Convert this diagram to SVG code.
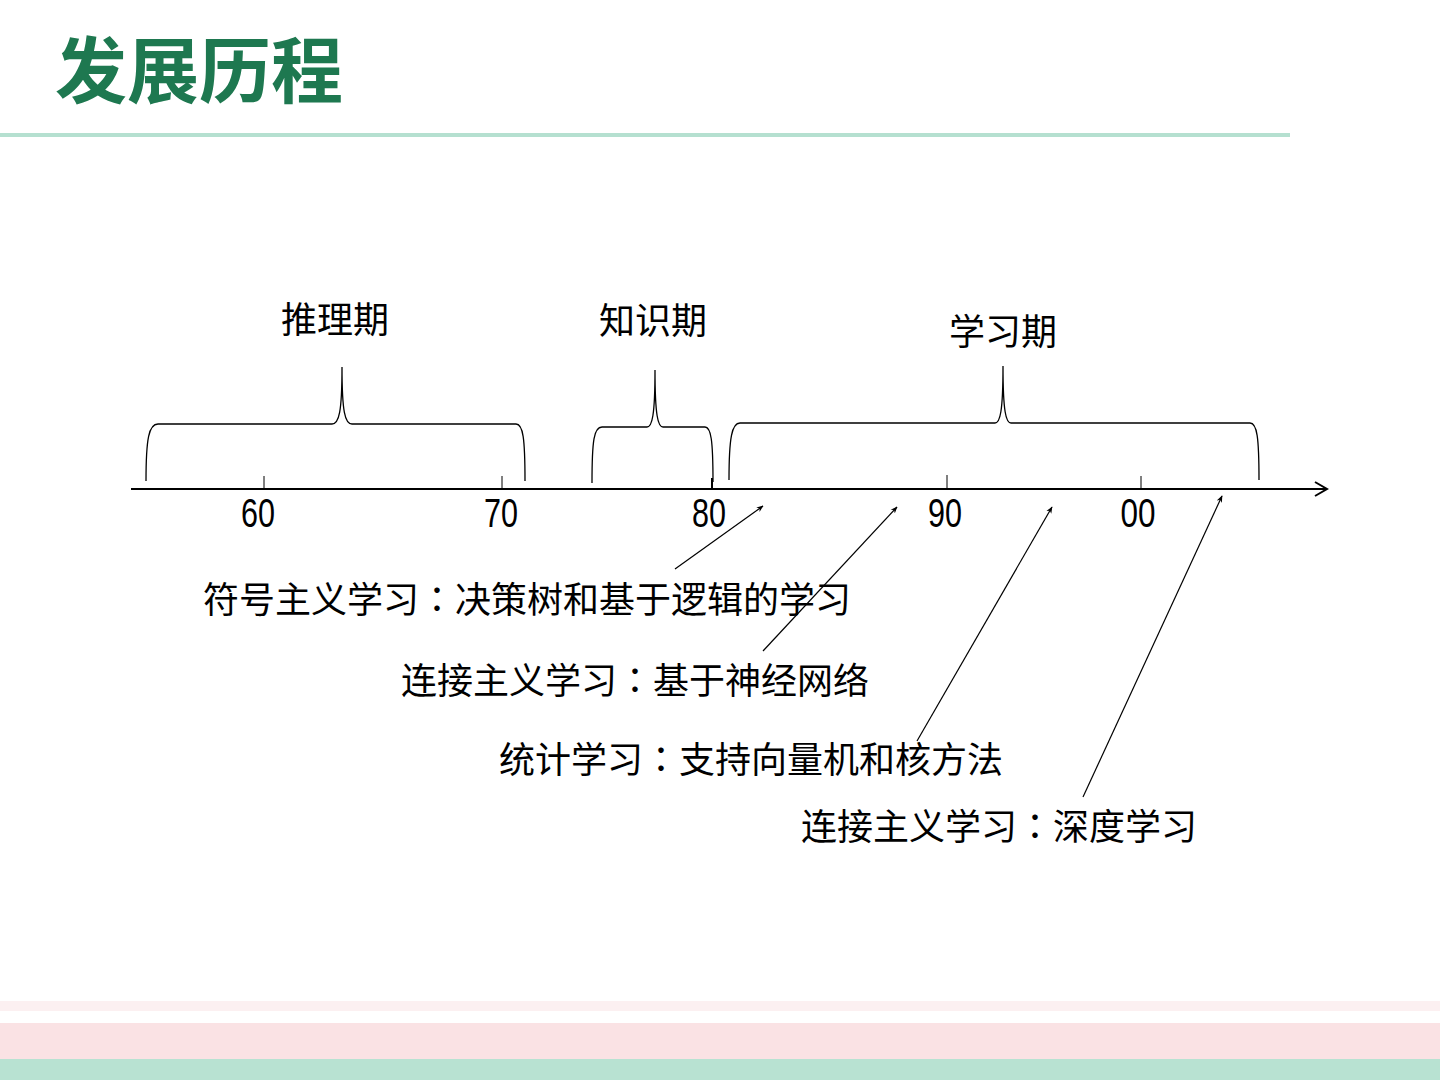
<svg xmlns="http://www.w3.org/2000/svg" width="1440" height="1080" viewBox="0 0 1440 1080">
<defs>
<style>
.cjk{font-family:"Noto Sans CJK SC","Noto Sans",sans-serif;fill:#000;font-size:36px}
.colon{font-family:"Noto Sans CJK TC","Noto Sans CJK SC",sans-serif}
.num{font-family:"Liberation Sans Narrow","Liberation Sans",sans-serif;fill:#000;font-size:41px;text-anchor:middle}
.brace{fill:none;stroke:#000;stroke-width:1.3}
.tick{stroke:#000;stroke-width:1}
.arr{stroke:#000;stroke-width:1.2;fill:none;marker-end:url(#ah)}
</style>
<marker id="ah" viewBox="0 0 10 10" refX="9" refY="5" markerWidth="7" markerHeight="7" markerUnits="userSpaceOnUse" orient="auto">
<path d="M0,1 L10,5 L0,9 L3,5 Z" fill="#000"/>
</marker>
</defs>
<rect width="1440" height="1080" fill="#fff"/>
<g id="title">
<text x="55" y="97" font-family="Noto Sans CJK SC,sans-serif" font-weight="bold" font-size="72" fill="#1e7850">发展历程</text>
<rect x="0" y="133" width="1290" height="4" fill="#b5e0d0"/>
</g>
<g id="footer">
<rect x="0" y="1001" width="1440" height="10" fill="#fcf0f1"/>
<rect x="0" y="1023" width="1440" height="36" fill="#fae2e4"/>
<rect x="0" y="1059" width="1440" height="21" fill="#b8e2d2"/>
</g>
<g id="axis">
<line x1="131" y1="489" x2="1326" y2="489" stroke="#000" stroke-width="2"/>
<path d="M1315,482 L1327,489 L1315,496" fill="none" stroke="#000" stroke-width="2"/>
<line class="tick" x1="264" y1="476" x2="264" y2="489"/>
<line class="tick" x1="502" y1="476" x2="502" y2="489"/>
<line x1="712" y1="478" x2="712" y2="489" stroke="#000" stroke-width="2"/>
<line class="tick" x1="947" y1="475" x2="947" y2="489"/>
<line class="tick" x1="1141" y1="476" x2="1141" y2="489"/>
<text class="num" x="258" y="527" textLength="34" lengthAdjust="spacingAndGlyphs">60</text>
<text class="num" x="501" y="527" textLength="34" lengthAdjust="spacingAndGlyphs">70</text>
<text class="num" x="709" y="527" textLength="34" lengthAdjust="spacingAndGlyphs">80</text>
<text class="num" x="945" y="527" textLength="34" lengthAdjust="spacingAndGlyphs">90</text>
<text class="num" x="1138" y="527" textLength="35" lengthAdjust="spacingAndGlyphs">00</text>
</g>
<g id="period-reasoning">
<path class="brace" d="M146,481 C146,438 149,424 158,424 L332,424 C339,424 342,412 342,367 C342,412 345,424 352,424 L516,424 C523,424 525,438 525,481"/>
<text class="cjk" x="335" y="333" text-anchor="middle">推理期</text>
</g>
<g id="period-knowledge">
<path class="brace" d="M592,483 C592,440 594,427 602,427 L647,427 C652,427 655,416 655,370 C655,416 658,427 663,427 L705,427 C711,427 713,440 713,482"/>
<text class="cjk" x="653" y="334" text-anchor="middle">知识期</text>
</g>
<g id="period-learning">
<path class="brace" d="M729,480 C729,437 732,423 740,423 L995,423 C1000,423 1003,412 1003,366 C1003,412 1006,423 1011,423 L1250,423 C1257,423 1259,437 1259,480"/>
<text class="cjk" x="1003" y="345" text-anchor="middle">学习期</text>
</g>
<g id="labels">
<text class="cjk" x="203" y="613">符号主义学习<tspan class="colon">：</tspan>决策树和基于逻辑的学习</text>
<text class="cjk" x="401" y="694">连接主义学习<tspan class="colon">：</tspan>基于神经网络</text>
<text class="cjk" x="499" y="773">统计学习<tspan class="colon">：</tspan>支持向量机和核方法</text>
<text class="cjk" x="801" y="840">连接主义学习<tspan class="colon">：</tspan>深度学习</text>
</g>
<g id="connectors">
<line class="arr" x1="675" y1="569" x2="763" y2="506"/>
<line class="arr" x1="763" y1="651" x2="897" y2="507"/>
<line class="arr" x1="917" y1="741" x2="1052" y2="507"/>
<line class="arr" x1="1083" y1="797" x2="1222" y2="496"/>
</g>
</svg>
